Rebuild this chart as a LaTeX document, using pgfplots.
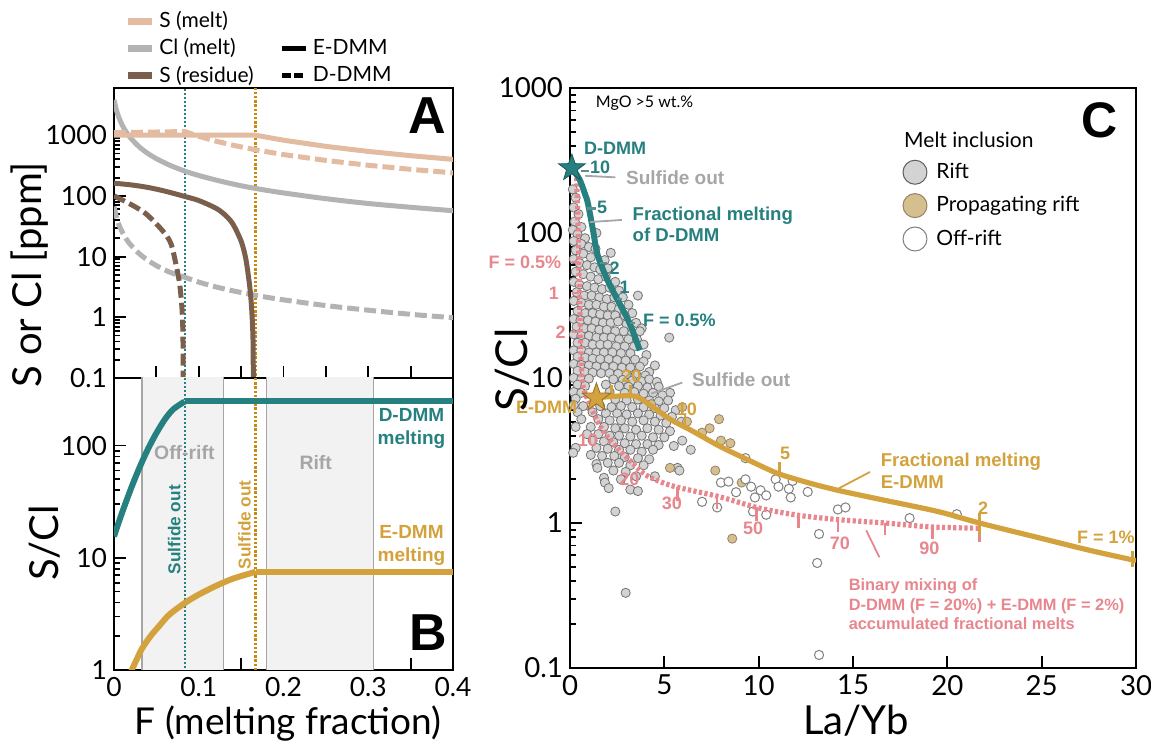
\documentclass[border=0pt]{standalone}
\usepackage{pgfplots}
\pgfplotsset{compat=1.18}
\usepackage{fontspec}
\setmainfont{Lato}
\newfontfamily\lsans{Liberation Sans}
\newcommand{\bl}{\lsans\bfseries}
\definecolor{tanS}{HTML}{E3BBA1}
\definecolor{grayCl}{HTML}{B3B3B3}
\definecolor{brownS}{HTML}{7A604C}
\definecolor{teal2}{HTML}{26807F}
\definecolor{gold2}{HTML}{D4A23C}
\definecolor{golddot}{HTML}{C98A12}
\definecolor{pink2}{HTML}{E8868E}
\definecolor{annog}{HTML}{A6A6A6}
\definecolor{shade}{HTML}{F2F2F2}
\definecolor{riftfill}{HTML}{D3D3D3}
\definecolor{propfill}{HTML}{D6BF8E}
\definecolor{tickteal}{HTML}{5E8F8F}
\pgfdeclareplotmark{fstar}{%
  \pgfpathmoveto{\pgfpointpolar{90}{\pgfplotmarksize}}%
  \pgfpathlineto{\pgfpointpolar{126}{0.40\pgfplotmarksize}}%
  \pgfpathlineto{\pgfpointpolar{162}{\pgfplotmarksize}}%
  \pgfpathlineto{\pgfpointpolar{198}{0.40\pgfplotmarksize}}%
  \pgfpathlineto{\pgfpointpolar{234}{\pgfplotmarksize}}%
  \pgfpathlineto{\pgfpointpolar{270}{0.40\pgfplotmarksize}}%
  \pgfpathlineto{\pgfpointpolar{306}{\pgfplotmarksize}}%
  \pgfpathlineto{\pgfpointpolar{342}{0.40\pgfplotmarksize}}%
  \pgfpathlineto{\pgfpointpolar{18}{\pgfplotmarksize}}%
  \pgfpathlineto{\pgfpointpolar{54}{0.40\pgfplotmarksize}}%
  \pgfpathclose\pgfusepathqfillstroke}
\pgfplotsset{
  base/.style={scale only axis, axis line style={line width=1.1pt},
    tick style={line width=0.9pt, black}, major tick length=6pt, minor tick length=3pt,
    tick pos=left, tick align=inside,
    /pgf/number format/assume math mode=true, /pgf/number format/1000 sep={},
    log ticks with fixed point, unbounded coords=jump},
}
\begin{document}
\begin{tikzpicture}
%%%%%%%%%%%%%%%% Panel A
\begin{axis}[base, at={(57pt,183pt)}, anchor=south west, width=169.5pt, height=145pt,
  xmin=0, xmax=0.4, ymode=log, ymin=0.1, ymax=6000,
  xtick={0,0.05,0.1,0.15,0.2,0.25,0.3,0.35,0.4}, xticklabels={},
  ytick={0.1,1,10,100,1000},
  yticklabel style={font=\fontsize{13.2}{15}\selectfont},
  legend columns=2,
  legend style={draw=none, fill=none, at={(0.012,1.293)}, anchor=north west,
    font=\fontsize{10.5}{12.5}\selectfont, row sep=0pt,
    /tikz/every even column/.append style={column sep=11pt}},
  legend cell align=left,
  legend image code/.code={\draw[#1] (0cm,0cm) -- (0.42cm,0cm);}]
\addlegendimage{tanS, line width=3.5pt}\addlegendentry{S (melt)}
\addlegendimage{empty legend}\addlegendentry{}
\addlegendimage{grayCl, line width=3.5pt}\addlegendentry{Cl (melt)}
\addlegendimage{black, line width=2.6pt}\addlegendentry{E-DMM}
\addlegendimage{brownS, line width=3.5pt}\addlegendentry{S (residue)}
\addlegendimage{black, line width=2.6pt, dash pattern=on 4.5pt off 1.5pt}\addlegendentry{D-DMM}
% sulfide-out lines
\addplot[teal2, line width=0.9pt, dash pattern=on 0.9pt off 1.1pt, forget plot] coordinates {(0.0835,0.01)(0.0835,10000)};
\addplot[golddot, line width=1.1pt, dash pattern=on 1.2pt off 0.9pt, forget plot] coordinates {(0.1669,0.01)(0.1669,10000)};
% Cl melt
\addplot[grayCl, line width=2.5pt, smooth, forget plot] coordinates {(0,3833)(0.003,2556)(0.006,1917)(0.01,1438)(0.015,1095)(0.02,885)(0.03,639)(0.04,500)(0.05,411)(0.065,324)(0.083,258)(0.1,217)(0.125,176)(0.15,147)(0.175,127)(0.2,112)(0.25,90)(0.3,75)(0.35,65)(0.4,57)};
\addplot[grayCl, line width=2.5pt, dash pattern=on 6pt off 2.5pt, smooth, forget plot] coordinates {(0,67)(0.003,44)(0.006,33)(0.01,25)(0.015,19)(0.02,15.4)(0.03,11.1)(0.04,8.7)(0.05,7.1)(0.065,5.6)(0.083,4.6)(0.1,3.8)(0.125,3.05)(0.15,2.56)(0.175,2.2)(0.2,1.94)(0.25,1.56)(0.3,1.31)(0.35,1.12)(0.4,0.985)};
% S melt
\addplot[tanS, line width=2.5pt, forget plot] coordinates {(0,1000)(0.167,1000)(0.2,828)(0.25,655)(0.3,541)(0.35,460)(0.4,400)};
\addplot[tanS, line width=2.5pt, dash pattern=on 6pt off 2.5pt, forget plot] coordinates {(0,1100)(0.0835,1150)(0.1,960)(0.12,800)(0.14,686)(0.167,575)(0.2,480)(0.25,384)(0.3,320)(0.35,274)(0.4,240)};
% S residue
\addplot[brownS, line width=2.5pt, smooth, forget plot] coordinates {(0,162)(0.02,152)(0.04,138)(0.06,120)(0.0835,98)(0.1,84)(0.12,63)(0.13,50)(0.14,35)(0.15,18)(0.155,10)(0.158,5.5)(0.161,2.5)(0.163,1.0)(0.1642,0.3)(0.1645,0.01)};
\addplot[brownS, line width=2.5pt, dash pattern=on 6pt off 2.5pt, smooth, forget plot] coordinates {(0,100)(0.0187,74)(0.0375,51)(0.057,27)(0.067,16.6)(0.073,7.6)(0.0775,3.5)(0.0805,1.2)(0.0815,0.3)(0.0817,0.01)};
\node[font=\bl\fontsize{26}{28}\selectfont] at (rel axis cs:0.923,0.905) {A};
\end{axis}
%%%%%%%%%%%%%%%% Panel B
\begin{axis}[base, at={(57pt,37pt)}, anchor=south west, width=169.5pt, height=146pt,
  xmin=0, xmax=0.4, ymode=log, ymin=1, ymax=400,
  xtick={0,0.05,0.1,0.15,0.2,0.25,0.3,0.35,0.4}, xticklabels={0,,0.1,,0.2,,0.3,,0.4},
  ytick={1,10,100},
  ticklabel style={font=\fontsize{13.2}{15}\selectfont},
  /pgf/number format/fixed]
\addplot[fill=shade, draw=none] coordinates {(0.033,0.5)(0.033,1000)(0.129,1000)(0.129,0.5)} -- cycle;
\addplot[fill=shade, draw=none] coordinates {(0.18,0.5)(0.18,1000)(0.306,1000)(0.306,0.5)} -- cycle;
\addplot[annog, line width=0.6pt] coordinates {(0.033,0.5)(0.033,1000)(0.033,nan)(0.129,0.5)(0.129,1000)(0.129,nan)(0.18,0.5)(0.18,1000)(0.18,nan)(0.306,0.5)(0.306,1000)};
\addplot[teal2, line width=0.9pt, dash pattern=on 0.9pt off 1.1pt] coordinates {(0.0835,0.5)(0.0835,1000)};
\addplot[golddot, line width=1.1pt, dash pattern=on 1.2pt off 0.9pt] coordinates {(0.1669,0.5)(0.1669,1000)};
\addplot[teal2, line width=3pt, smooth] coordinates {(0,15.5)(0.005,20.1)(0.01,25.8)(0.02,41.3)(0.03,63.4)(0.04,92.9)(0.05,129)(0.06,171)(0.07,211)(0.0835,247)};
\addplot[teal2, line width=3pt] coordinates {(0.0835,247)(0.4,247)};
\addplot[gold2, line width=3pt, smooth] coordinates {(0.019,0.9)(0.021,1.0)(0.027,1.25)(0.033,1.55)(0.043,2.0)(0.053,2.45)(0.065,3.1)(0.0835,3.95)(0.1,4.7)(0.12,5.6)(0.14,6.5)(0.167,7.5)};
\addplot[gold2, line width=3pt] coordinates {(0.167,7.5)(0.4,7.5)};
\node[text=annog, font=\bl\fontsize{9.7}{11}\selectfont] at (axis cs:0.083,87) {Off-rift};
\node[text=annog, font=\bl\fontsize{9.7}{11}\selectfont] at (axis cs:0.238,70) {Rift};
\node[text=teal2, font=\bl\fontsize{9.5}{11.5}\selectfont, align=center] at (axis cs:0.351,142) {D-DMM\\melting};
\node[text=gold2, font=\bl\fontsize{9.5}{11.5}\selectfont, align=center] at (axis cs:0.351,13) {E-DMM\\melting};
\node[text=teal2, rotate=90, font=\bl\fontsize{8.6}{10}\selectfont] at (axis cs:0.071,17.8) {Sulfide out};
\node[text=gold2, rotate=90, font=\bl\fontsize{8.6}{10}\selectfont] at (axis cs:0.154,19.7) {Sulfide out};
\node[font=\bl\fontsize{26}{28}\selectfont] at (rel axis cs:0.926,0.127) {B};
\end{axis}
%%%%%%%%%%%%%%%% Panel C
\begin{axis}[base, at={(285pt,38pt)}, anchor=south west, width=283pt, height=290pt,
  xmin=0, xmax=30, ymode=log, ymin=0.1, ymax=1000, clip mode=individual,
  xtick={0,5,10,15,20,25,30}, ytick={0.1,1,10,100,1000},
  ticklabel style={font=\fontsize{13.8}{16}\selectfont},
  legend style={draw=none, fill=none, at={(0.577,0.885)}, anchor=north west,
    font=\fontsize{10.5}{12.5}\selectfont, row sep=3.5pt},
  legend cell align=left,
  legend image code/.code={\draw[#1] plot coordinates {(0.22cm,0cm)}; \path (0.52cm,0cm);}]
\addlegendimage{only marks, mark=*, mark size=6pt, mark options={fill=riftfill, draw=gray!75!black, line width=0.5pt}}\addlegendentry{Rift}
\addlegendimage{only marks, mark=*, mark size=6pt, mark options={fill=propfill, draw=gray!60!brown, line width=0.5pt}}\addlegendentry{Propagating rift}
\addlegendimage{only marks, mark=*, mark size=6pt, mark options={fill=white, draw=gray, line width=0.5pt}}\addlegendentry{Off-rift}
% Rift (gray)
\addplot[only marks, mark=*, mark size=2.3pt, mark options={fill=riftfill, draw=black!55, line width=0.4pt}, forget plot] coordinates {
(0.15,200)(0.3,175)(0.2,150)(0.45,135)(0.25,120)(0.6,110)(0.15,105)(1.4,100)(0.4,98)(0.8,92)(0.2,88)(0.6,84)(1.0,80)(1.35,78)(0.3,76)(1.84,65)(2.16,73)(0.7,72)(1.1,68)(0.2,66)(0.5,62)(0.9,60)(1.3,58)(1.6,56)(2.0,57)(0.3,54)(0.7,52)(1.1,50)(1.5,48)(1.9,50)(2.4,46)(0.2,46)(0.5,44)(0.9,43)(1.3,42)(1.7,41)(2.1,42)(2.6,40)(0.35,39)(0.75,37)(1.15,37)(1.55,36)(1.95,35)(2.35,36)(2.8,36)(3.6,37)(0.2,34)(0.6,33)(1.0,32)(1.4,32)(1.8,31)(2.2,31)(2.6,30)(3.1,32)(3.3,28)(0.4,29)(0.8,28)(1.2,28)(1.6,27.5)(2.0,27)(2.4,27)(2.9,27)(0.2,25.5)(0.55,25)(0.95,25)(1.35,24.5)(1.75,24)(2.15,24)(2.55,24.5)(3.0,23.5)(3.5,24)(3.8,22)(0.35,22.5)(0.75,22)(1.15,22)(1.55,21.5)(1.95,21.5)(2.4,21)(2.85,21)(3.3,20.5)(3.7,21)(0.2,20)(0.6,19.5)(1.0,19.5)(1.4,19)(1.8,19)(2.2,19)(2.6,18.5)(3.1,18.5)(3.55,18.5)(5.26,19)(0.4,17.5)(0.8,17.5)(1.2,17)(1.6,17)(2.0,17)(2.45,16.5)(2.9,16.5)(3.4,16.5)(3.9,17)(0.2,15.5)(0.6,15.5)(1.0,15)(1.4,15)(1.8,15)(2.25,15)(2.7,14.8)(3.2,14.8)(4.05,14.4)(0.4,14)(0.8,13.8)(1.2,13.6)(1.6,13.5)(2.05,13.5)(2.5,13.3)(2.95,13.2)(3.45,13.4)(3.9,13)(0.2,12.5)(0.6,12.3)(1.0,12.2)(1.4,12)(1.85,12)(2.3,12)(2.75,11.8)(3.2,11.8)(3.7,12)(4.2,11)(4.5,12.2)(0.4,11.2)(0.8,11)(1.2,10.9)(1.65,10.8)(2.1,10.8)(2.55,10.7)(3.0,10.6)(3.5,10.7)(4.0,10.4)(0.2,10)(0.6,9.8)(1.0,9.9)(2.3,9.8)(2.8,9.7)(3.3,9.6)(3.8,9.5)(4.2,9.8)(4.6,9.4)
(0.4,9.0)(0.8,8.8)(1.9,9.0)(2.6,8.8)(3.1,8.7)(3.6,8.8)(4.1,8.6)(4.7,8.7)(5.3,7.9)(0.2,8.0)(0.6,7.9)(2.1,8.0)(2.9,7.9)(3.4,8.0)(3.9,7.8)(4.4,7.9)(4.9,7.6)(0.3,7.2)(2.4,7.1)(3.0,7.0)(3.6,7.1)(4.2,7.0)(4.7,6.9)(5.2,7.0)(0.2,6.5)(0.7,6.4)(1.6,6.4)(2.2,6.3)(2.7,6.4)(3.3,6.3)(3.9,6.3)(4.5,6.2)(5.0,6.2)(5.6,6.0)(0.4,5.8)(1.2,5.8)(1.9,5.7)(2.5,5.7)(3.0,5.6)(3.6,5.7)(4.2,5.6)(4.8,5.5)(5.4,5.4)(0.6,5.2)(1.5,5.2)(2.1,5.1)(2.7,5.1)(3.3,5.0)(3.9,5.1)(4.5,5.0)(5.1,4.9)(5.9,5.0)(0.3,4.6)(1.1,4.6)(1.8,4.6)(2.4,4.5)(2.9,4.5)(3.5,4.4)(4.1,4.5)(4.7,4.4)(5.3,4.3)(0.9,4.1)(1.5,4.1)(2.1,4.0)(2.6,4.0)(3.2,3.95)(3.8,4.0)(4.4,3.9)(5.0,3.9)(5.95,3.7)(1.2,3.7)(1.8,3.65)(2.3,3.6)(2.9,3.55)(3.5,3.5)(4.1,3.5)(4.7,3.45)(5.5,3.4)(0.3,3.3)(1.4,3.3)(2.0,3.25)(2.6,3.2)(3.2,3.2)(3.8,3.1)(4.4,3.2)(6.4,3.2)(0.17,3.05)(1.1,2.95)(1.7,2.9)(2.35,2.9)(2.9,2.85)(3.6,2.8)(4.2,2.75)(1.4,2.55)(2.0,2.6)(2.6,2.6)(3.2,2.5)(3.9,2.5)(1.45,2.4)(2.3,2.3)(2.95,2.25)(4.5,2.1)(5.7,2.4)(5.8,2.3)(1.8,2.05)(2.7,2.0)(3.5,2.1)(1.85,1.9)(2.05,1.74)(3.2,1.7)(3.6,1.66)(2.4,1.2)(2.95,0.33)};
% Propagating rift
\addplot[only marks, mark=*, mark size=2.3pt, mark options={fill=propfill, draw=gray!60!brown, line width=0.4pt}, forget plot] coordinates {
(5.95,6.3)(6.2,5.0)(7.0,4.2)(7.4,4.5)(7.9,5.2)(8.0,3.7)(8.5,3.55)(7.7,2.3)(5.3,2.4)(9.1,1.9)(8.6,0.78)(4.3,6.6)};
% Off-rift
\addplot[only marks, mark=*, mark size=2.3pt, mark options={fill=white, draw=gray, line width=0.5pt}, forget plot] coordinates {
(9.3,2.8)(10.9,2.0)(11.8,1.95)(11.6,1.72)(12.6,1.64)(9.6,1.78)(9.8,1.5)(8.0,1.9)(8.4,1.93)(8.8,1.63)(10.1,1.68)(10.4,1.55)(11.05,1.78)(11.7,1.5)(9.3,2.0)(7.0,1.4)(7.8,1.28)(9.7,1.2)(10.4,1.14)(14.2,1.24)(14.6,1.28)(13.2,0.84)(13.1,0.53)(13.2,0.123)(18.0,1.08)(20.5,1.15)};
% curves
\addplot[pink2, line width=2.6pt, dash pattern=on 1.6pt off 1.2pt, smooth, forget plot] coordinates {(0.35,240)(0.4,150)(0.45,80)(0.5,40)(0.55,20)(0.6,12)(0.7,8.7)(1.1,6.3)(1.5,4.9)(2.0,3.9)(2.6,3.2)(3.3,2.6)(4.0,2.15)(4.9,1.9)(5.8,1.75)(7.9,1.52)(10.0,1.27)(12.1,1.13)(14.4,1.05)(16.7,1.0)(19.1,0.94)(21.7,0.92)};
\addplot[pink2, line width=1.3pt, forget plot] coordinates {(0.1,63)(0.5,63)(0.5,nan)(0.1,38.6)(0.5,38.6)(0.5,nan)(0.1,20.7)(0.55,20.7)(0.55,nan)(5.7,1.76)(5.7,1.42)(5.7,nan)(7.8,1.53)(7.8,1.24)(7.8,nan)(9.9,1.28)(9.9,1.04)(9.9,nan)(12.1,1.13)(12.1,0.92)(12.1,nan)(14.2,1.05)(14.2,0.86)(14.2,nan)(16.7,1.0)(16.7,0.82)(16.7,nan)(19.2,0.94)(19.2,0.77)(19.2,nan)(21.7,1.1)(21.7,0.74)};
\addplot[teal2, line width=3pt, smooth, forget plot] coordinates {(0.1,280)(0.5,235)(0.8,185)(0.95,160)(1.2,108)(1.47,70)(2.0,47)(2.5,35)(3.15,24)(3.7,15.5)};
\addplot[tickteal, line width=1.3pt, forget plot] coordinates {(0.6,268)(1.0,268)(1.0,nan)(0.9,148)(1.4,148)(1.4,nan)(1.6,62)(1.95,62)(1.95,nan)(2.5,35)(2.75,35)(2.75,nan)(3.2,24)(3.45,24)};
\addplot[gold2, line width=2.6pt, smooth, forget plot] coordinates {(1.4,7.3)(2.5,7.5)(3.5,7.45)(4.4,6.3)(5.3,5.2)(6.5,4.3)(7.9,3.4)(9.5,2.7)(11.0,2.2)(12.6,1.9)(14.2,1.68)(16.5,1.45)(19.5,1.2)(21.7,1.0)(24.7,0.8)(27.5,0.65)(30,0.55)};
\addplot[gold2, line width=1.3pt, forget plot] coordinates {(2.2,7.5)(2.2,9.0)(2.2,nan)(3.2,7.45)(3.2,9.0)(3.2,nan)(6.1,4.6)(6.1,5.6)(6.1,nan)(11.1,2.15)(11.1,2.65)(11.1,nan)(21.7,0.82)(21.7,1.18)(21.7,nan)(29.8,0.5)(29.8,0.64)};
\addplot[only marks, mark=fstar, mark size=7pt, mark options={fill=teal2, draw=teal2!70!black, line width=0.4pt}, forget plot] coordinates {(0.1,280)};
\addplot[only marks, mark=fstar, mark size=7.5pt, mark options={fill=gold2, draw=gold2!70!black, line width=0.4pt}, forget plot] coordinates {(1.4,7.3)};
% leader lines
\draw[annog, line width=0.9pt] (axis cs:0.8,248) -- (axis cs:2.4,242);
\draw[annog, line width=0.9pt] (axis cs:1.05,119) -- (axis cs:2.75,123);
\draw[annog, line width=0.9pt] (axis cs:5.95,9.3) -- (axis cs:4.3,7.8);
\draw[gold2, line width=0.9pt] (axis cs:15.9,2.25) -- (axis cs:14.2,1.72);
\draw[pink2, line width=0.9pt] (axis cs:16.4,0.58) -- (axis cs:15.7,0.89);
% text
\node[anchor=west, font=\fontsize{8}{9}\selectfont] at (axis cs:1.0,790) {MgO >5 wt.\%};
\node[anchor=west, font=\fontsize{10.5}{12}\selectfont] at (rel axis cs:0.578,0.91) {Melt inclusion};
\node[font=\bl\fontsize{25}{27}\selectfont] at (rel axis cs:0.935,0.945) {C};
\begin{scope}[font=\bl\fontsize{9}{10.5}\selectfont]
\node[anchor=west, text=teal2] at (axis cs:0.37,385) {D-DMM};
\node[text=teal2] at (axis cs:1.6,285) {10};
\node[anchor=west, text=annog, font=\bl\fontsize{9.5}{11}\selectfont] at (axis cs:2.6,240) {Sulfide out};
\node[text=teal2] at (axis cs:1.7,151) {5};
\node[anchor=west, text=teal2, align=left, font=\bl\fontsize{9.3}{10.8}\selectfont] at (axis cs:2.95,115) {Fractional melting\\of D-DMM};
\node[text=teal2] at (axis cs:2.37,57) {2};
\node[text=teal2] at (axis cs:2.9,42) {1};
\node[anchor=west, text=teal2] at (axis cs:3.5,25) {F = 0.5\%};
\node[anchor=east, text=pink2] at (axis cs:-0.1,63) {F = 0.5\%};
\node[text=pink2] at (axis cs:-0.85,38.6) {1};
\node[text=pink2] at (axis cs:-0.5,20.7) {2};
\node[text=pink2] at (axis cs:0.95,3.7) {10};
\node[text=pink2] at (axis cs:3.15,2.0) {20};
\node[text=pink2] at (axis cs:5.4,1.37) {30};
\node[text=pink2] at (axis cs:9.7,0.92) {50};
\node[text=pink2] at (axis cs:14.3,0.73) {70};
\node[text=pink2] at (axis cs:19.05,0.67) {90};
\node[anchor=east, text=gold2] at (axis cs:0.75,6.3) {E-DMM};
\node[text=gold2] at (axis cs:3.25,10.2) {20};
\node[anchor=west, text=annog, font=\bl\fontsize{9.5}{11}\selectfont] at (axis cs:6.1,9.7) {Sulfide out};
\node[text=gold2] at (axis cs:6.2,6.1) {10};
\node[text=gold2] at (axis cs:11.4,3.0) {5};
\node[text=gold2] at (axis cs:21.9,1.27) {2};
\node[text=gold2] at (axis cs:28.4,0.8) {F = 1\%};
\node[anchor=west, text=gold2, align=left, font=\bl\fontsize{9.3}{10.8}\selectfont] at (axis cs:16.1,2.3) {Fractional melting\\E-DMM};
\node[anchor=north west, text=pink2, align=left, font=\bl\fontsize{8.2}{9.6}\selectfont] at (axis cs:14.4,0.46) {Binary mixing of\\D-DMM (F = 20\%) + E-DMM (F = 2\%)\\accumulated fractional melts};
\end{scope}
\end{axis}
%%%%%%%%%%%%%%%% axis labels
\node[rotate=90, font=\fontsize{20}{22}\selectfont] at (15pt,234.5pt) {S or Cl [ppm]};
\node[rotate=90, font=\fontsize{20}{22}\selectfont] at (22.5pt,100.5pt) {S/Cl};
\node[anchor=base, font=\fontsize{18.5}{20}\selectfont] at (144pt,5pt) {F (melting fraction)};
\node[anchor=base, font=\fontsize{20}{22}\selectfont] at (428pt,5pt) {La/Yb};
\node[rotate=90, font=\fontsize{22}{24}\selectfont] at (256pt,187pt) {S/Cl};
\pgfresetboundingbox
\path[use as bounding box] (0,0) rectangle (575.5pt,372pt);
\end{tikzpicture}
\end{document}
